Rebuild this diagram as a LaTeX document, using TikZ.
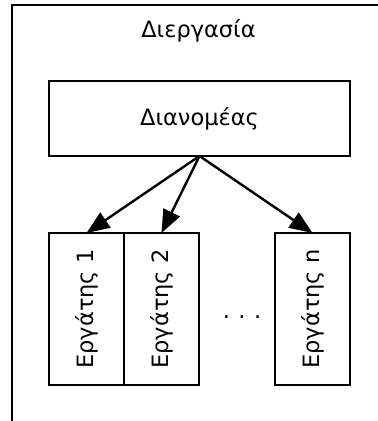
\documentclass[tikz,border=0pt]{standalone}
\usepackage{fontspec}
\setmainfont{DejaVu Sans}
\usetikzlibrary{positioning,arrows.meta}

\begin{document}
\begin{tikzpicture}[x=1pt,y=1pt,
		box/.style = {draw, line width=2.4pt, outer sep=0pt, font=\fontsize{22.5}{27}\selectfont},
		worker/.style = {box, minimum width=75pt, minimum height=152pt, inner sep=0pt},
		arr/.style = {-{Triangle[length=23pt, width=18pt]}, line width=2.4pt}]
		\useasboundingbox (0,0) rectangle (378,-421);
		% プロセス枠
		\draw [line width=2.4pt] (12,-421) |- (378,-5);
		\node [font=\fontsize{22.5}{27}\selectfont] (title) at (198.5,-31) {Διεργασία};
		% ディスパッチャ
		\node [box, minimum width=301pt, minimum height=75pt] (dist) at (199.5,-118.5) {Διανομέας};
		% ワーカー
		\node [worker, below right=77pt and 0pt of dist.south west] (w1) {\rotatebox{90}{Εργάτης 1}};
		\node [worker, right=0pt of w1] (w2) {\rotatebox{90}{Εργάτης 2}};
		\node [worker, below left=77pt and 0pt of dist.south east] (wn) {\rotatebox{90}{Εργάτης n}};
		\node [font=\fontsize{22.5}{27}\selectfont, anchor=base] (dots) at (242,-318.5) {.\hspace{8.5pt}.\hspace{8.5pt}.};
		% 矢印
		\draw [arr] (dist.south) -- (w1.north);
		\draw [arr] (dist.south) -- (w2.north);
		\draw [arr] (dist.south) -- (wn.north);
	\end{tikzpicture}
\end{document}
